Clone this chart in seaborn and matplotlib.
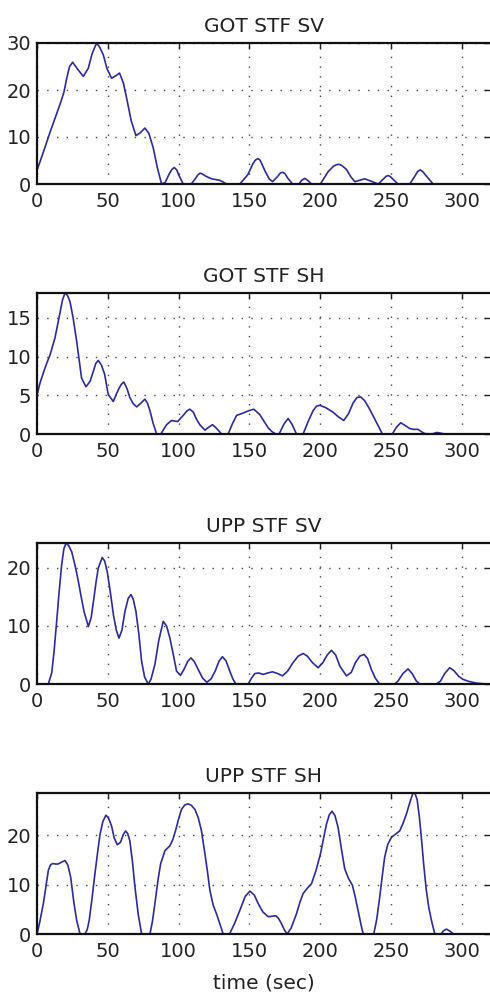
import numpy as np
import pandas as pd
import matplotlib
matplotlib.use("Agg")
import matplotlib.pyplot as plt
import seaborn as sns

titles = ["GOT STF SV", "GOT STF SH", "UPP STF SV", "UPP STF SH"]
yticks = [[0, 10, 20, 30], [0, 5, 10, 15], [0, 10, 20], [0, 10, 20]]
xticks = [0, 50, 100, 150, 200, 250, 300]
xlabel = "time (sec)"

t_got_sv = [0, 4.5, 9.2, 13, 16.2, 19, 21, 23, 25.2, 28.5, 32.7, 36.2, 39, 42.1, 44.5, 46.8,
            49.5, 52.7, 55.5, 58.3, 61, 63.3, 66.5, 69.9, 73, 76.2, 79, 82.1, 85, 88, 90.5,
            93.5, 95.3, 97, 98.7, 100, 103.3, 109, 112, 113.8, 115.3, 117, 119, 123.3, 129, 134,
            143.3, 149, 152.5, 154.3, 156, 157.5, 158.5, 161, 164, 166.4, 170, 171.8, 173.4,
            175.2, 177, 180.5, 185, 187, 189.2, 191.5, 193.9, 200.2, 205.6, 209.5, 211.5, 213.4,
            215.5, 218.6, 221.5, 224.5, 228, 231.5, 236, 241, 244.5, 246.5, 248, 249.5, 251.5,
            255, 263.3, 267, 269, 270.8, 272.6, 275, 279.8, 320]
v_got_sv = [2.9, 6.8, 11, 14.2, 16.9, 19.5, 22.5, 25, 25.9, 24.5, 22.9, 24.6, 27.8, 30, 29, 27.5,
            24.5, 22.5, 23, 23.6, 21.5, 18.3, 13.5, 10.3, 10.9, 11.9, 10.8, 7.7, 3.5, 0, 0.3,
            2.2, 3.1, 3.5, 3.0, 2.0, 0, 0, 1.2, 2.0, 2.3, 2.1, 1.7, 1.1, 0.8, 0,
            0, 2.0, 4.3, 5.1, 5.4, 5.1, 4.5, 2.8, 1.1, 0.5, 1.6, 2.3, 2.5,
            2.2, 1.3, 0, 0, 0.8, 1.2, 0.7, 0, 0, 2.6, 3.8, 4.1, 4.2,
            3.9, 3.1, 1.6, 0.5, 0.8, 1.1, 0.6, 0, 1.0, 1.6, 1.8, 1.6, 1.0,
            0, 0, 1.7, 2.7, 3.0, 2.6, 1.7, 0, 0]

t_got_sh = [0, 2, 4.5, 7, 9.2, 12.7, 16.2, 18, 19.8, 21.5, 23.3, 25.5, 28, 31.5, 34.6, 37.5,
            39.8, 41.5, 43.3, 45.5, 47.8, 50.3, 53.9, 57.4, 59.5, 61.4, 63.5, 65.6, 68, 70.4,
            73.5, 76.2, 78, 79.8, 82, 84.5, 87.5, 91.5, 95.1, 99.3, 103.3, 106, 108, 110.5, 112.7,
            115, 118.6, 121.5, 124, 127, 130.4, 135, 138, 141, 145.6, 149.5, 153.2, 157.4,
            160.5, 163.3, 166, 168.7, 171, 174.5, 177.4, 180, 183.3, 188, 191.5, 195, 197.5, 199.8,
            204, 209.2, 213, 216.7, 220, 223.3, 226, 228.5, 231.5, 235, 239.5, 244, 251, 254, 257,
            260, 263.3, 266, 269.2, 271.5, 274, 279, 282.6, 288, 320]
v_got_sh = [5.0, 6.5, 7.9, 9.2, 10.2, 12.4, 15.6, 17.3, 18.2, 17.9, 17.1, 15, 12.0, 7.2, 6.1, 6.8,
            8.1, 9.1, 9.5, 8.9, 7.7, 5.1, 4.2, 5.7, 6.4, 6.7, 5.9, 4.7, 3.9, 3.5,
            4.0, 4.5, 4.0, 3.0, 1.4, 0, 0, 1.2, 1.75, 1.6, 2.4, 3.0, 3.2, 2.8, 1.9,
            1.2, 0.5, 0.9, 1.2, 0.7, 0, 0, 1.3, 2.4, 2.7, 3.0, 3.2, 2.5,
            1.6, 0.8, 0.3, 0, 0, 1.3, 2.0, 1.3, 0, 0, 1.6, 3.0, 3.6, 3.7,
            3.4, 2.8, 2.2, 1.75, 2.6, 4.0, 4.7, 4.8, 4.3, 3.2, 1.6, 0, 0, 0.9, 1.45,
            1.1, 0.7, 0.6, 0.6, 0.3, 0.05, 0, 0.2, 0, 0]

t_upp_sv = [0, 8, 10.4, 12, 13.9, 15.5, 17.4, 19, 20.5, 22.5, 24.5, 27, 29.2, 31, 33.2, 36.3,
            38.3, 40.2, 41.8, 43.3, 46.1, 47.8, 49.6, 52, 54, 56, 57.9, 60, 62.1, 64.5, 66.4,
            68, 69.9, 72, 73.9, 76, 78.6, 80.5, 83.3, 86, 89.2, 91.5, 93.9, 96.5, 98.6, 101.4,
            104, 106.5, 108.7, 111, 113.9, 117, 120, 123, 126, 128.5, 131, 133.5, 136.2, 138.5,
            140.5, 149.2, 151.5, 153.9, 156.5, 159.7, 163, 166.3, 170, 173.4, 177, 180.9,
            184.5, 188, 191, 194.5, 198.6, 202, 205, 208, 211, 213.9, 218.6, 222, 225, 228,
            231, 233.5, 236.2, 239, 242, 252.7, 255, 258.5, 262.1, 265, 268, 270.4, 282.1,
            285, 288, 291.5, 294.5, 298, 300.9, 305, 310.4, 315, 320]
v_upp_sv = [0, 0, 1.9, 5.5, 10.8, 15.5, 20.5, 23.3, 24.3, 23.8, 22.8, 20.3, 17.7, 15.3, 12.5, 9.9,
            11.5, 14.8, 17.7, 20, 21.8, 21.2, 19.4, 15.5, 11.9, 9.3, 7.9, 9.3, 12.5, 14.8, 15.4,
            14.6, 12.5, 8.5, 3.9, 1.2, 0, 0.8, 3.4, 7.5, 10.8, 10, 7.9, 4.8, 2.2, 1.5,
            2.6, 3.9, 4.5, 3.9, 2.5, 1.0, 0.3, 0.9, 2.3, 3.9, 4.7, 4.0, 2.2, 0.8,
            0, 0, 1.0, 1.8, 1.9, 1.65, 1.9, 2.1, 1.8, 1.4, 2.2, 3.7,
            4.8, 5.25, 4.8, 3.7, 2.8, 3.7, 5.0, 5.8, 5.0, 3.1, 1.4, 2.0, 3.7, 4.8,
            5.1, 4.4, 2.5, 1.0, 0, 0, 0.5, 1.8, 2.6, 1.8, 0.5, 0, 0,
            0.5, 1.8, 2.8, 2.3, 1.3, 0.8, 0.45, 0.15, 0.05, 0]

t_upp_sh = [0, 2, 4.5, 6.5, 8, 9.5, 11.1, 13, 15, 17.5, 19.8, 21.8, 23.8, 26, 28, 30.4, 33.9,
            35.5, 36.9, 39, 40.9, 42.8, 44.5, 46.5, 48.7, 50.5, 52.7, 54.5, 56.7, 59, 61, 62.6,
            64, 65.6, 67.5, 69.2, 71.5, 73.9, 79.8, 81.5, 83.3, 85.5, 87.3, 90.4, 93.9, 96,
            98.1, 100, 102.1, 104.5, 106.8, 109, 111.5, 114, 116.2, 119, 120.5, 122.1, 124.5,
            126.8, 129, 131.5, 136, 139.5, 143.3, 147, 150.4, 153.5, 156.2, 159.5, 163.3, 166,
            168.7, 170.5, 172.7, 174.8, 176.7, 179.5, 183.3, 186, 188, 191, 193.9, 197, 200.2,
            202.5, 204.5, 206.5, 208.4, 210.5, 212.7, 215, 217.4, 220, 222.8, 224.8, 226.8,
            228.8, 230.4, 237.9, 240, 242.1, 244, 245.6, 247.8, 250.4, 253, 256.2, 258.5,
            260.9, 263.5, 265.6, 267, 268.5, 270, 271.5, 273.2, 275, 276.8, 278.6, 281, 285.5,
            287, 289.2, 291.5, 294.3, 320]
v_upp_sh = [0, 2.5, 6.2, 10, 12.9, 14.0, 14.3, 14.2, 14.2, 14.6, 14.9, 14.0, 11.5, 6.5, 2.8, 0, 0,
            0.9, 2.8, 7.5, 12.2, 16.5, 20.2, 22.8, 24.1, 23.5, 21.9, 19.5, 18.1, 18.6, 20.2, 20.9,
            20.4, 18.9, 14.5, 9.5, 4.0, 0, 0, 2.5, 6.2, 11, 14.2, 16.9, 17.9, 19.2,
            21.2, 23.3, 25.3, 26.2, 26.4, 26.1, 25.3, 23.5, 20.9, 15.5, 12.5, 8.9, 5.8,
            4.1, 2.2, 0, 0, 2.1, 4.8, 7.6, 8.7, 7.9, 6.2, 4.5, 3.5, 3.6,
            3.7, 3.2, 2.1, 0.8, 0, 1.2, 4.1, 6.7, 8.2, 9.3, 10.2, 12.8, 16.2,
            19.5, 22.3, 24.2, 24.9, 24, 21.6, 17.3, 13.2, 11.3, 9.9, 7.5, 4.8,
            2.0, 0, 0, 3.0, 7.5, 12.0, 15.6, 18.2, 19.6, 20.2, 20.9, 22.4,
            24.3, 26.8, 28.6, 28.5, 27.3, 24, 19.6, 14, 8.9, 5.3, 2.8, 0, 0,
            0.6, 1.0, 0.6, 0, 0]

series = [(t_got_sv, v_got_sv), (t_got_sh, v_got_sh), (t_upp_sv, v_upp_sv), (t_upp_sh, v_upp_sh)]

sns.set_style("white")
plt.rcParams['font.family'] = ['DejaVu Sans']

W, H = 490, 1001
fig = plt.figure(figsize=(W / 100, H / 100), dpi=100)

left_px, right_px = 37, 490
tops_px = [43, 293, 543, 793]
height_px = 141
line_color = "#2b2b9c"

for i, ((t, v), title, yt) in enumerate(zip(series, titles, yticks)):
    top = tops_px[i]
    ax = fig.add_axes([left_px / W, 1 - (top + height_px) / H,
                       (right_px - left_px) / W, height_px / H])
    df = pd.DataFrame({"t": t, "v": v})
    sns.lineplot(data=df, x="t", y="v", ax=ax, color=line_color, linewidth=1.2,
                 sort=False, estimator=None)
    ax.set_xlim(0, 320)
    ax.set_ylim(0, max(v))
    ax.set_xticks(xticks)
    ax.set_yticks(yt)
    ax.set_xlabel("")
    ax.set_ylabel("")
    ax.set_title(title, fontsize=14.5, color="#222222", pad=8)
    ax.grid(True, color="#444444", linestyle=(0, (1, 6)), linewidth=1.0)
    ax.tick_params(direction="in", length=4, width=1, top=True, right=True,
                   labelsize=14, colors="#222222", pad=4)
    ax.tick_params(axis="x", pad=6)
    for s in ax.spines.values():
        s.set_color("#111111")
        s.set_linewidth(1.6)
    ax.spines["right"].set_visible(False)
    if i == 3:
        ax.set_xlabel(xlabel, fontsize=14.5, color="#222222", labelpad=9)

fig.savefig("out.png", dpi=100)
